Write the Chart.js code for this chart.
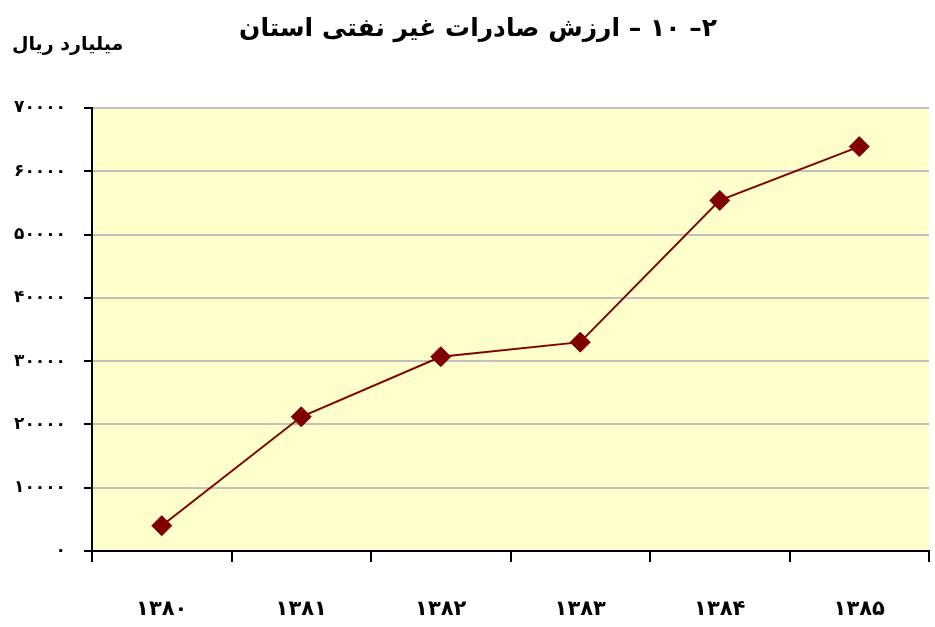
<!DOCTYPE html>
<html>
<head>
<meta charset="utf-8">
<script src="https://cdn.jsdelivr.net/npm/chart.js@4"></script>
<style>
  html, body { margin: 0; padding: 0; background: #fff; }
  #wrap { width: 935px; height: 627px; }
</style>
</head>
<body>
<div id="wrap"><canvas id="exportChart"></canvas></div>
<script>
// years and values (billion rials)
const years = ["۱۳۸۰", "۱۳۸۱", "۱۳۸۲", "۱۳۸۳", "۱۳۸۴", "۱۳۸۵"];
const exportValues = [4000, 21200, 30700, 33000, 55400, 63900];
const yTicks = [0, 10000, 20000, 30000, 40000, 50000, 60000, 70000];
const titleText = "۲– ۱۰ – ارزش صادرات غیر نفتی استان";
const unitText = "میلیارد ریال";

const FONT = "'DejaVu Sans', sans-serif";
const faDigits = s => String(s).replace(/\d/g, d => "۰۱۲۳۴۵۶۷۸۹"[d]);

const plotBg = {
    id: "plotBg",
    beforeDraw(chart) {
        const { ctx, chartArea: a } = chart;
        ctx.save();
        ctx.fillStyle = "#FFFFCC";
        ctx.fillRect(a.left, a.top, a.right - a.left, a.bottom - a.top);
        ctx.restore();
    },
    afterDraw(chart) {
        const ctx = chart.ctx;
        ctx.save();
        ctx.fillStyle = "#000";
        ctx.direction = "rtl";
        ctx.textBaseline = "middle";
        ctx.font = "bold 25px " + FONT;
        ctx.textAlign = "center";
        ctx.fillText(titleText, 478, 29);
        ctx.font = "bold 19px " + FONT;
        ctx.textAlign = "left";
        ctx.fillText(unitText, 12, 45);
        ctx.restore();
    }
};

new Chart(document.getElementById("exportChart"), {
    type: "line",
    data: {
        labels: years,
        datasets: [{
            data: exportValues,
            borderColor: "#800000",
            borderWidth: 2,
            backgroundColor: "#800000",
            pointStyle: "rectRot",
            pointRadius: 10,
            pointBorderWidth: 1,
            pointBackgroundColor: "#800000",
            pointBorderColor: "#800000",
            tension: 0
        }]
    },
    options: {
        responsive: true,
        maintainAspectRatio: false,
        animation: false,
        layout: { autoPadding: false, padding: { top: 108, left: 0, right: 6, bottom: 0 } },
        plugins: { legend: { display: false }, tooltip: { enabled: false }, title: { display: false } },
        scales: {
            x: {
                offset: true,
                grid: { offset: true, drawOnChartArea: false, tickLength: 11, tickColor: "#000", lineWidth: 2 },
                border: { color: "#000", width: 2 },
                ticks: { color: "#000", padding: 35, font: { family: FONT, size: 21, weight: "bold" } },
                afterFit: s => { s.height = 76; }
            },
            y: {
                min: 0,
                max: 70000,
                afterBuildTicks: s => { s.ticks = yTicks.map(v => ({ value: v })); },
                grid: { color: "#c0c0c0", lineWidth: 2, tickLength: 8, tickColor: "#000" },
                border: { color: "#000", width: 2 },
                ticks: { color: "#000", padding: 18, font: { family: FONT, size: 17, weight: "bold" }, callback: v => faDigits(v) },
                afterFit: s => { s.width = 92; }
            }
        }
    },
    plugins: [plotBg]
});
</script>
</body>
</html>
